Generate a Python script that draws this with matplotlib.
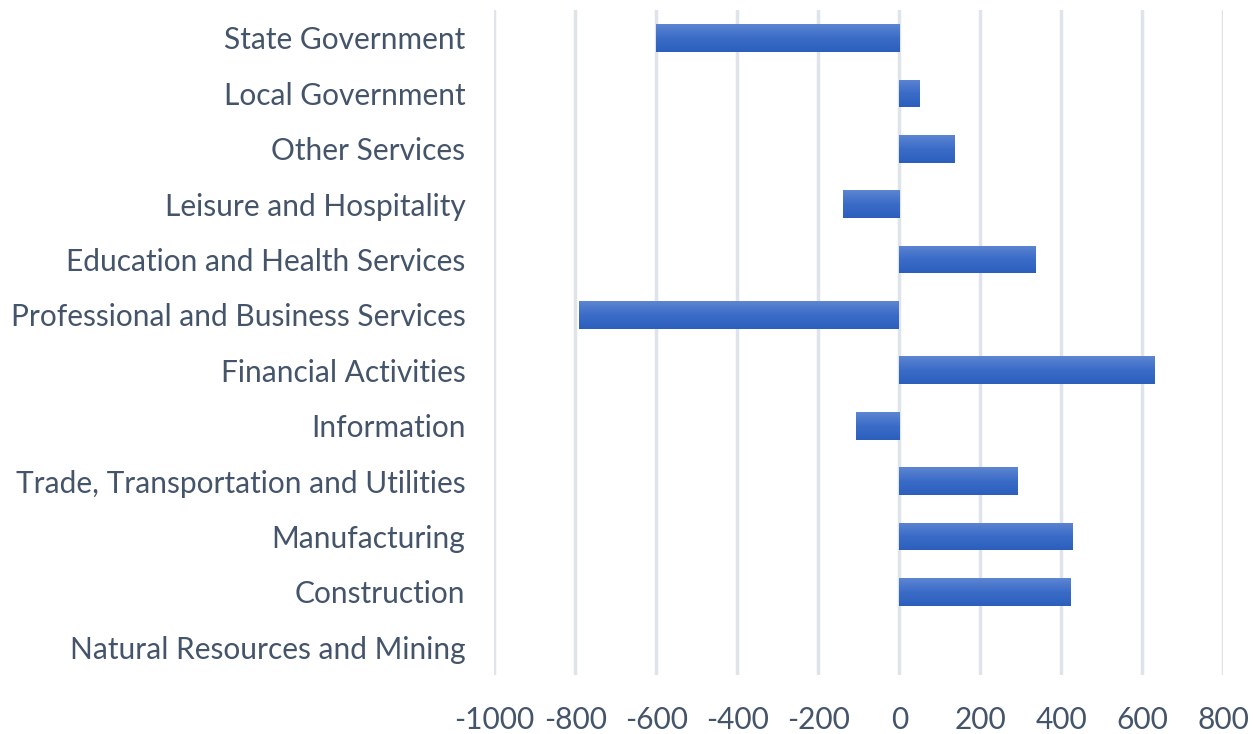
import numpy as np
import matplotlib
matplotlib.use('Agg')
import matplotlib.pyplot as plt
from matplotlib.colors import LinearSegmentedColormap

plt.rcParams['font.family'] = ['Lato', 'DejaVu Sans']

# data (bottom to top, as drawn)
sectors = [
    'Natural Resources and Mining',
    'Construction',
    'Manufacturing',
    'Trade, Transportation and Utilities',
    'Information',
    'Financial Activities',
    'Professional and Business Services',
    'Education and Health Services',
    'Leisure and Hospitality',
    'Other Services',
    'Local Government',
    'State Government',
]
change = [0, 423, 428, 293, -108, 630, -790, 338, -140, 136, 51, -601]
xticks = [-1000, -800, -600, -400, -200, 0, 200, 400, 600, 800]

text_color = '#44546A'
grid_color = '#DFE3EA'
grad = LinearSegmentedColormap.from_list('bar', ['#2C5FBD', '#3A6CC7', '#5D85D2'])

fig = plt.figure(figsize=(12.55, 7.34), dpi=100)
ax = fig.add_axes([0.394, 0.0804, 0.5806, 0.9056])

y = np.arange(len(sectors))
bars = ax.barh(y, change, height=0.5, color='#3A6CC7', linewidth=0, zorder=2)

# vertical gradient fill inside each bar
img = np.linspace(0, 1, 64).reshape(-1, 1)
for b in bars:
    x0, y0 = b.get_x(), b.get_y()
    w, h = b.get_width(), b.get_height()
    if w == 0:
        b.set_visible(False)
        continue
    im = ax.imshow(img, cmap=grad, aspect='auto', origin='lower',
                   extent=(min(x0, x0 + w), max(x0, x0 + w), y0, y0 + h),
                   zorder=2.5, interpolation='bilinear')
    im.set_clip_path(b)

ax.set_xlim(-1000, 800)
ax.set_ylim(-0.5, len(sectors) - 0.5)
ax.set_xticks(xticks)
ax.set_xticklabels([str(v) for v in xticks])
ax.set_yticks(y)
ax.set_yticklabels(sectors)
ax.xaxis.grid(True, color=grid_color, linewidth=2.5, zorder=1)
ax.set_axisbelow(True)
for s in ax.spines.values():
    s.set_visible(False)
ax.tick_params(axis='both', length=0, colors=text_color, labelsize=21.5)
ax.tick_params(axis='x', pad=22)
ax.tick_params(axis='y', pad=21)

fig.savefig('out.png', dpi=100, facecolor='white')
